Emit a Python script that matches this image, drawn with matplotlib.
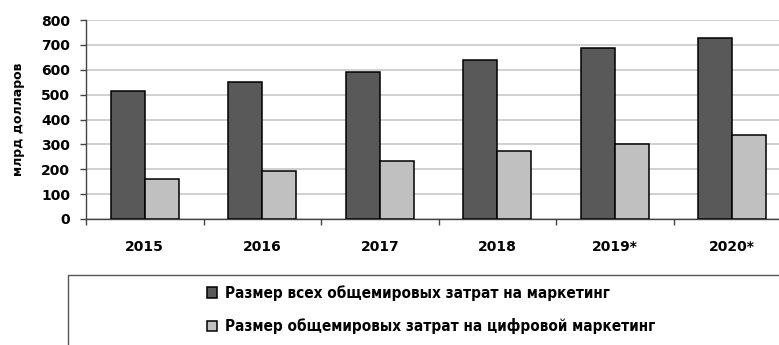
import matplotlib
matplotlib.use('Agg')
import matplotlib.pyplot as plt
from matplotlib.patches import Rectangle
import numpy as np

# values, billions of dollars
years = ['2015', '2016', '2017', '2018', '2019*', '2020*']
total_marketing = [513, 552, 591, 639, 686, 728]
digital_marketing = [161, 191, 233, 273, 303, 336]
label_total = 'Размер всех общемировых затрат на маркетинг'
label_digital = 'Размер общемировых затрат на цифровой маркетинг'

plt.rcParams['font.family'] = ['DejaVu Sans']

W, H = 779, 345
fig = plt.figure(figsize=(W / 100, H / 100), dpi=100)
# the plot area runs past the right edge of the picture, as in the source
ax = fig.add_axes([86 / W, 126 / H, 705 / W, 199 / H])

x = np.arange(len(years))
bw = 0.29
b1 = ax.bar(x - bw / 2, total_marketing, bw, color='#595959',
            edgecolor='black', linewidth=1.1, zorder=3)
b2 = ax.bar(x + bw / 2, digital_marketing, bw, color='#c0c0c0',
            edgecolor='black', linewidth=1.1, zorder=3)

ax.set_xlim(-0.5, len(years) - 0.5)
ax.set_ylim(0, 800)
ax.set_yticks(range(0, 801, 100))
ax.yaxis.grid(True, color='#c8c8c8', linewidth=1.2, zorder=0)

ax.set_xticks(x)
ax.set_xticklabels(years, fontweight='bold', fontsize=10)
ax.set_xticks(np.arange(-0.5, len(years)), minor=True)
ax.tick_params(axis='x', which='major', length=0, pad=15)
ax.tick_params(axis='x', which='minor', length=4.5, width=1, color='#444444')
ax.tick_params(axis='y', length=4.5, width=1, color='#444444', pad=7,
               labelsize=10)
for t in ax.get_yticklabels():
    t.set_fontweight('bold')

for s in ['top', 'right']:
    ax.spines[s].set_visible(False)
for s in ['left', 'bottom']:
    ax.spines[s].set_color('#444444')
    ax.spines[s].set_linewidth(1)

ax.set_ylabel('млрд долларов', fontsize=9, fontweight='bold')
ax.yaxis.set_label_coords(-0.087, 0.5)

# legend box, cut off at the right and bottom like the source
fig.patches.append(Rectangle((68 / W, -0.2), 1.0, 0.2 + 70 / H,
                             transform=fig.transFigure, fill=False,
                             edgecolor='#555555', linewidth=1))
fig.legend([b1, b2], [label_total, label_digital], loc='upper left',
           bbox_to_anchor=(207 / W, (345 - 285) / H), frameon=False,
           prop={'family': 'DejaVu Sans', 'stretch': 'condensed',
                 'weight': 'bold', 'size': 11},
           handlelength=0.66, handleheight=0.66, handletextpad=0.5,
           labelspacing=1.16, borderpad=0, borderaxespad=0)

fig.savefig('out.png', dpi=100)
